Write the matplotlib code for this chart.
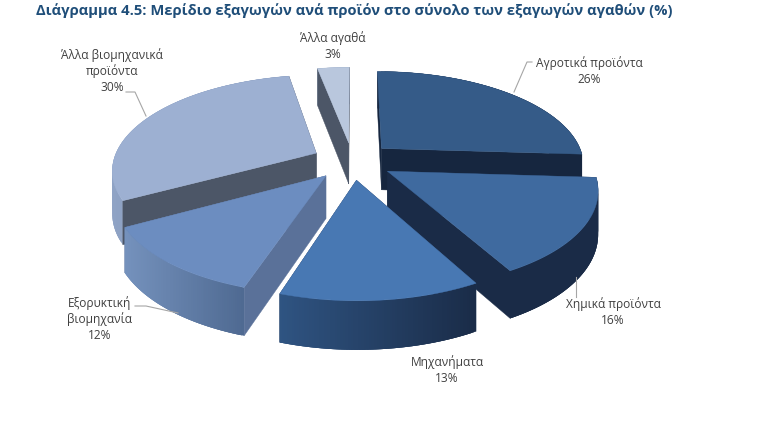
import numpy as np
import matplotlib
matplotlib.use("Agg")
import matplotlib.pyplot as plt
from matplotlib.colors import to_rgb

plt.rcParams['font.family'] = ['Open Sans', 'DejaVu Sans']

# data
products = ["Αγροτικά προϊόντα", "Χημικά προϊόντα", "Μηχανήματα",
            "Εξορυκτική\nβιομηχανία", "Άλλα βιομηχανικά\nπροϊόντα", "Άλλα αγαθά"]
shares = [26, 16, 13, 12, 30, 3]

# colours: top, cut face, wall left, wall right
top_colors = ["#355b88", "#3f6a9f", "#4878b3", "#6c8dc0", "#9db0d2", "#b9c7dd"]
cut_colors = ["#16263f", "#1a2b47", "#22395c", "#5a7199", "#4c5667", "#4c5667"]
wall_left = ["#1d3557", "#1a2b47", "#2f5482", "#7592bd", "#8fa3c5", "#8fa3c5"]
wall_right = ["#16263f", "#1a2b47", "#1a2c48", "#4f6a92", "#7d91b3", "#8fa3c5"]
draw_order = [5, 4, 0, 3, 1, 2]

# pie geometry in pixels
cx, cy = 352.5, 161
rx, ry = 203, 93.5
persp = 0.165
depth = 42
explode = 0.2


def project(u, v, drop=False):
    w = 1 + persp * v
    x = cx + rx * u / w
    y = cy - ry * v / w
    if drop:
        y = y + depth / (1 + 0.12 * v)
    return x, y


def mix(c1, c2, t):
    a, b = np.array(to_rgb(c1)), np.array(to_rgb(c2))
    return tuple(a + (b - a) * t)


fig = plt.figure(figsize=(7.59, 4.30), dpi=100)
ax = fig.add_axes([0, 0, 1, 1])
ax.set_xlim(0, 759)
ax.set_ylim(430, 0)
ax.axis("off")

edges = np.cumsum([0] + shares) / 100 * 2 * np.pi

for i in draw_order:
    t0, t1 = edges[i], edges[i + 1]
    mid = (t0 + t1) / 2
    ou, ov = explode * np.sin(mid), explode * np.cos(mid)
    th = np.linspace(t0, t1, 80)
    u = ou + np.sin(th)
    v = ov + np.cos(th)

    # side faces, the ones furthest back first
    faces = []
    for t in [t0, t1]:
        pu = np.array([ou, ou + np.sin(t)])
        pv = np.array([ov, ov + np.cos(t)])
        faces.append((pv.mean(), "cut", pu, pv))
    faces.append((v.mean(), "wall", u, v))
    faces.sort(key=lambda f: -f[0])

    for _, kind, fu, fv in faces:
        xa, ya = project(fu, fv)
        xb, yb = project(fu, fv, drop=True)
        if kind == "cut":
            ax.fill(np.r_[xa, xb[::-1]], np.r_[ya, yb[::-1]],
                    color=cut_colors[i], lw=0.3)
        else:
            # strips overlap the next one so no seams show
            for j in range(len(xa) - 1):
                k = min(j + 3, len(xa) - 1)
                col = mix(wall_left[i], wall_right[i], (xa[j] - xa.min()) / (xa.max() - xa.min()))
                ax.fill(np.r_[xa[j:k + 1], xb[j:k + 1][::-1]],
                        np.r_[ya[j:k + 1], yb[j:k + 1][::-1]],
                        color=col, lw=0)

    x0, y0 = project(ou, ov)
    xt, yt = project(u, v)
    ax.fill(np.r_[x0, xt], np.r_[y0, yt], color=top_colors[i], lw=0.3)

# leader lines
leaders = [([514, 527, 532], [92, 62, 62]),
           ([576, 576], [277, 297]),
           ([135, 146, 178], [306, 306, 313]),
           ([126, 135, 146], [92, 92, 116])]
for lx, ly in leaders:
    ax.plot(lx, ly, color="#a6a6a6", lw=0.8)

# labels
label_x = [589, 613, 447, 100, 112, 333]
label_y = [71, 312, 370, 319, 71, 46]
for name, val, x, y in zip(products, shares, label_x, label_y):
    ax.text(x, y, f"{name}\n{val}%", ha="center", va="center",
            fontsize=8.6, color="#404040", linespacing=1.28)

ax.text(36, 11, "Διάγραμμα 4.5: Μερίδιο εξαγωγών ανά προϊόν στο σύνολο των εξαγωγών αγαθών (%)",
        ha="left", va="center", fontsize=10.6, fontweight="bold", color="#1f4e79")

fig.savefig("out.png", dpi=100, facecolor="white")
